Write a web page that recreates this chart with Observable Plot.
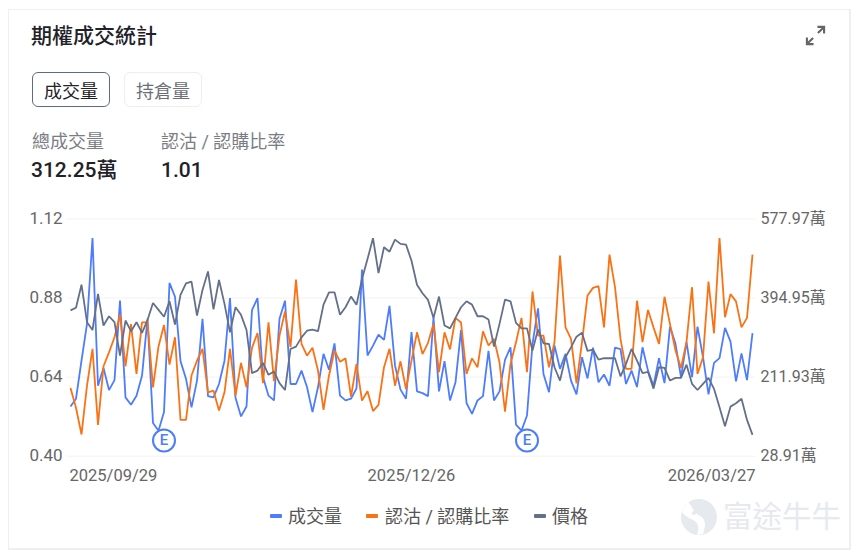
<!DOCTYPE html>
<html><head><meta charset="utf-8">
<script src="https://cdn.jsdelivr.net/npm/d3@7"></script>
<script src="https://cdn.jsdelivr.net/npm/@observablehq/plot@0.6"></script>
<style>
html,body{margin:0;padding:0;background:#fff;width:860px;height:553px;overflow:hidden;font-family:Roboto,"Noto Sans CJK TC",sans-serif}
.a{position:absolute;white-space:nowrap;line-height:1}
#card{position:absolute;left:8px;top:9px;width:840px;height:538px;border:1px solid #efefef;border-right:2px solid #efefef;border-bottom:2px solid #efefef;box-sizing:content-box}
.btn{position:absolute;top:72px;height:35px;width:78px;box-sizing:border-box;border-radius:6px;font-size:18px;display:flex;align-items:center;justify-content:center}
#chart{position:absolute;left:0;top:200px}
.sw{position:absolute;width:12px;height:3.5px;top:514px;border-radius:1px}
</style></head><body>
<div id="card"></div>
<div class="a" style="left:31px;top:26px;font-size:21px;font-weight:500;color:#1f2229">期權成交統計</div>
<svg class="a" style="left:805px;top:25px" width="21" height="21" viewBox="0 0 22 22" fill="none" stroke="#666" stroke-width="2.2"><path d="M13 2h7v7M20 2l-6.5 6.5M9 20H2v-7M2 20l6.5-6.5"/></svg>
<div class="btn" style="left:32px;border:1.5px solid #5d6b87;color:#1f2229">成交量</div>
<div class="btn" style="left:124px;border:1.5px solid #eeeeee;color:#6b6e75">持倉量</div>
<div class="a" style="left:32px;top:133px;font-size:18px;color:#7a7d84">總成交量</div>
<div class="a" style="left:161px;top:133px;font-size:18px;color:#7a7d84">認沽 / 認購比率</div>
<div class="a" style="left:31px;top:160px;font-size:21px;font-weight:500;color:#1f2229">312.25萬</div>
<div class="a" style="left:161px;top:160px;font-size:21px;font-weight:500;color:#1f2229">1.01</div>
<div id="chart"></div>
<div class="sw" style="left:270px;background:#4d7cfe"></div>
<div class="a" style="left:288px;top:508px;font-size:18px;color:#555">成交量</div>
<div class="sw" style="left:366px;background:#f97316"></div>
<div class="a" style="left:385px;top:508px;font-size:18px;color:#555">認沽 / 認購比率</div>
<div class="sw" style="left:534px;background:#64708a"></div>
<div class="a" style="left:552px;top:508px;font-size:18px;color:#555">價格</div>
<svg class="a" style="left:680px;top:498px" width="38" height="38" viewBox="0 0 38 38"><circle cx="19" cy="19" r="18" fill="#e6e9ed"/><path d="M8 4c6 6 4 10 12 14 6 3 6 9 3 18l-6 1C20 28 18 24 11 21 6 18 2 16 2 12z" fill="#fff"/><circle cx="14" cy="15" r="2" fill="#e6e9ed"/></svg>
<div class="a" style="left:723px;top:503px;font-size:29.5px;color:#e6e9ed">富途牛牛</div>
<script>
const volume=[144,162,250,335,534,192,233,182,205,389,165,148,169,215,347,106,88,131,430,398,249,208,142,204,347,168,165,196,250,395,164,121,144,367,395,212,169,158,347,389,196,196,227,189,131,189,266,229,290,169,158,162,186,461,262,285,310,298,377,239,183,162,316,179,175,168,350,179,249,158,200,321,152,127,158,168,273,158,179,252,281,102,88,123,289,371,219,177,285,231,266,204,172,258,209,280,200,218,192,280,277,196,227,189,281,227,192,256,198,329,289,212,293,212,329,258,172,245,256,326,294,202,267,205,314];
const ratio=[.607,.547,.466,.614,.726,.495,.673,.715,.761,.83,.673,.801,.65,.806,.806,.609,.733,.798,.678,.761,.51,.51,.645,.69,.726,.594,.599,.539,.594,.726,.584,.683,.609,.729,.774,.622,.806,.628,.766,.839,.731,.936,.741,.705,.729,.66,.541,.645,.721,.687,.697,.581,.68,.569,.597,.537,.556,.67,.726,.614,.688,.604,.69,.776,.71,.744,.801,.655,.776,.724,.82,.806,.65,.697,.67,.779,.736,.756,.685,.535,.68,.746,.82,.655,.9,.766,.766,.67,.746,1.009,.791,.756,.621,.746,.888,.911,.916,.791,1.012,.913,.756,.665,.665,.872,.746,.844,.791,.741,.884,.801,.721,.668,.746,.913,.65,.7,.93,.773,1.062,.822,.892,.87,.791,.82,1.012];
const price=[61.5,62.6,72.3,56.5,53.2,68.4,55.1,59,56.5,42.4,57.2,52.7,56.5,52,57.4,64.6,61.7,58.8,65.3,55.5,68,72.9,73.6,59.3,70.1,77.9,61.9,74.3,64.2,52.2,62.8,59.6,53.2,35,36.1,39.3,34.3,35.7,30.8,27.9,45.2,46.2,50.1,52.9,53.4,52.7,63.9,69.1,69.1,59.6,62.8,67.3,63.8,74.7,83.1,91.9,77.2,88.1,86.2,91.3,89.5,89.2,82.4,72.3,68.7,65.9,58.3,67.3,55.1,53.9,58.3,62.8,65.3,63.9,59,59,57.6,46.2,55.8,66,65.3,56.2,53.9,53.9,44.5,53.4,47.6,47.3,37.5,31.9,41.7,45.9,50.4,52,44.4,44.9,40.7,41.3,41.3,41.3,33.7,38.9,45.2,40.3,35,35.5,28.5,37.5,37.2,31.9,33,33,38.6,30.5,27.9,30.5,33,28.4,20.6,12.6,20.9,22.3,24.2,15.3,9];
const ratioTicks=[.4,.64,.88,1.12];
const ratioLabels=["0.40","0.64","0.88","1.12"];
const volumeLabels=["28.91萬","211.93萬","394.95萬","577.97萬"];
const volumeMin=28.91, volumeMax=577.97, priceMin=0, priceMax=100;
const dateIndex=[0,62,124];
const dateLabels=["2025/09/29","2025/12/26","2026/03/27"];
const earnings=[17,83];
const earningsLevel=.4475;
const colors={volume:"#4d7cfe",ratio:"#f97316",price:"#64708a"};

const [yMin,yMax]=[ratioTicks[0],ratioTicks[ratioTicks.length-1]];
const onLeft=(v,a,b)=>yMin+(v-a)/(b-a)*(yMax-yMin);
const idx=d3.range(volume.length);
const line=(fn,stroke)=>Plot.line(idx,{x:i=>i,y:fn,stroke,strokeWidth:1.8,strokeLinejoin:"miter",strokeLinecap:"butt"});
const dateMark=(k,anchor,dx)=>Plot.text([dateIndex[k]],{x:d=>d,y:()=>yMin,text:()=>dateLabels[k],textAnchor:anchor,dx,dy:20,fontSize:16.5,fill:"#666"});
const plot=Plot.plot({
  width:860,height:290,marginTop:18.5,marginBottom:34.3,marginLeft:67,marginRight:105,
  style:{fontFamily:'Roboto,"Noto Sans CJK TC",sans-serif',background:"transparent",overflow:"visible"},
  x:{domain:[0,volume.length-1],insetLeft:3,insetRight:3,axis:null},
  y:{domain:[yMin,yMax],axis:null},
  marks:[
    Plot.ruleY(ratioTicks,{stroke:"#f2f2f2",strokeWidth:1}),
    Plot.axisY({anchor:"left",ticks:ratioTicks,tickSize:0,tickFormat:d=>ratioLabels[ratioTicks.indexOf(d)],textAnchor:"start",dx:-29,dy:-0.5,fontSize:17,fill:"#666",label:null}),
    Plot.axisY({anchor:"right",ticks:ratioTicks,tickSize:0,tickFormat:d=>volumeLabels[ratioTicks.indexOf(d)],textAnchor:"start",dx:-4,dy:-0.5,fontSize:16,fill:"#666",label:null}),
    line(i=>onLeft(volume[i],volumeMin,volumeMax),colors.volume),
    line(i=>ratio[i],colors.ratio),
    line(i=>onLeft(price[i],priceMin,priceMax),colors.price),
    Plot.dot(earnings,{x:d=>d,y:()=>earningsLevel,r:11,stroke:colors.volume,strokeWidth:2,fill:"#fff"}),
    Plot.text(earnings,{x:d=>d,y:()=>earningsLevel,text:()=>"E",fill:colors.volume,fontSize:15,fontWeight:500}),
    dateMark(0,"start",-1),dateMark(1,"middle",0),dateMark(2,"end",3)
  ]
});
document.getElementById("chart").appendChild(plot);
</script>
</body></html>
